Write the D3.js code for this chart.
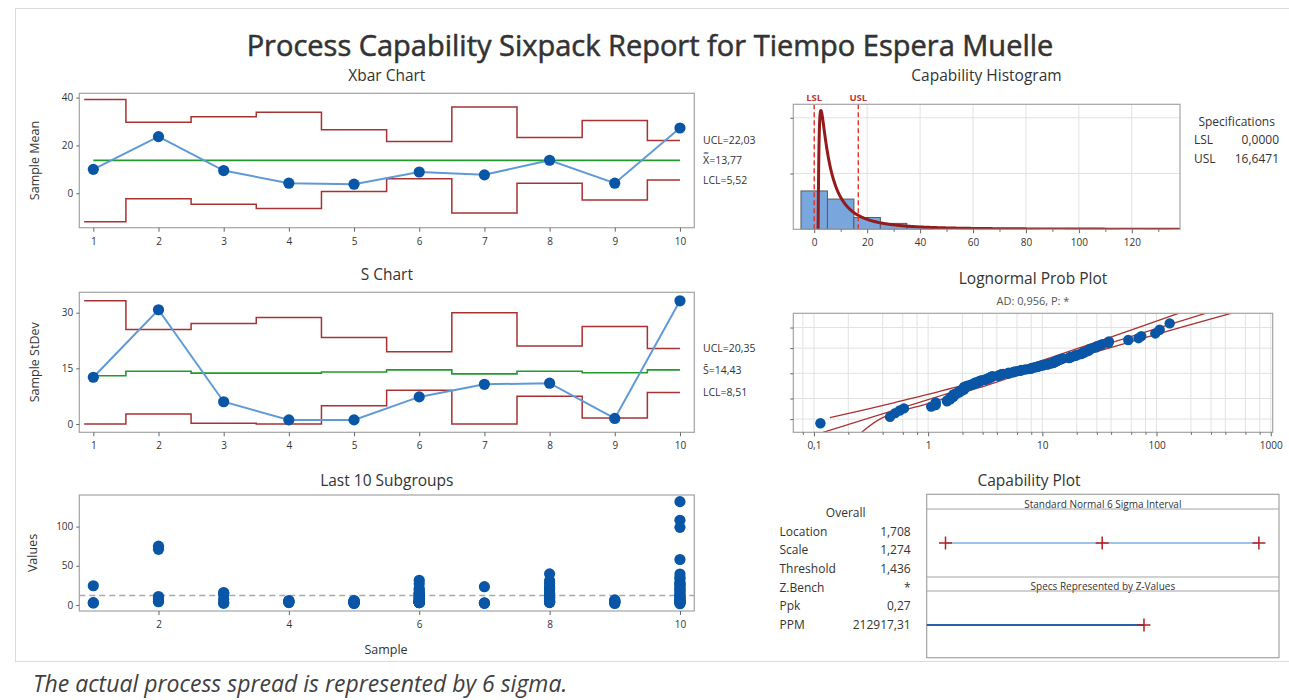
<!DOCTYPE html>
<html>
<head>
<meta charset="utf-8">
<script src="https://cdn.jsdelivr.net/npm/d3@7"></script>
<style>
  body { margin: 0; background: #fff; }
  svg { display: block; font-family: "Open Sans", "Noto Sans", sans-serif; }
</style>
</head>
<body>
<svg id="chart" width="1289" height="700"></svg>
<script>
// ---- data ----
const subgroupIds = [1, 2, 3, 4, 5, 6, 7, 8, 9, 10];

const xbarValues = [10.0, 23.7, 9.5, 4.2, 3.8, 8.9, 7.7, 13.8, 4.2, 27.3];
const xbarUCL = [39.2, 29.7, 32.0, 33.9, 26.6, 21.6, 36.1, 23.3, 30.4, 22.03];
const xbarLCL = [-11.9, -2.3, -4.6, -6.4, 0.7, 6.1, -8.3, 4.2, -2.8, 5.52];
const xbarCenter = 13.77;
const xbarLabels = ["UCL=22,03", "X\u033F=13,77", "LCL=5,52"];

const sValues = [12.6, 30.8, 6.0, 1.1, 1.1, 7.3, 10.7, 11.0, 1.5, 33.2];
const sUCL = [33.2, 25.5, 27.1, 28.7, 23.3, 19.5, 30.0, 21.0, 26.3, 20.35];
const sCenter = [13.0, 14.2, 13.7, 13.7, 14.0, 14.6, 13.5, 14.2, 13.8, 14.6];
const sLCL = [0, 2.7, 0.2, 0, 4.9, 9.1, 0, 7.5, 1.6, 8.51];
const sLabels = ["UCL=20,35", "S\u0304=14,43", "LCL=8,51"];
const sLabelValues = [20.35, 14.43, 8.51];

// individual observations per subgroup
const obs1 = [24.5, 2.6, 2.9];
const obs2 = [71, 75, 4.2, 5.0, 6.5, 7.8, 9.3, 10.8];
const obs3 = [2.0, 3.5, 7.5, 13.0, 15.0, 15.8];
const obs4 = [3.0, 3.5, 4.0, 4.8, 5.7];
const obs5 = [1.9, 2.6, 2.9, 3.2, 3.5, 3.7, 3.9, 4.1, 4.4, 4.7, 5.1, 5.6];
const obs6 = [3.0, 3.1, 3.1, 3.2, 3.3, 3.3, 3.4, 3.5, 3.5, 3.6, 3.8, 4.0, 4.3, 4.6, 4.9, 4.8,
              5.8, 6.5, 7.2, 8.0, 9.0, 9.9, 10.5, 11.5, 13.5, 14.2, 14.8, 16.0, 19.0, 21.0, 27.0, 31.5];
const obs7 = [23.3, 2.05, 2.5, 2.6];
const obs8 = [39.7, 31, 27.6, 23.5, 21, 19, 15.2, 14.6, 14, 12.5, 11.5, 10.3, 9.5, 8.5, 7, 5.8, 5.0, 4.2, 3.8, 3.4, 3.1];
const obs9 = [1.95, 3.0, 3.5, 4.0, 4.6, 5.5, 6.5];
const obs10 = [131.8, 108, 99, 58, 39.4, 35, 33.4, 29, 27, 26, 24.5, 22, 20, 18.5, 16.5, 14, 12.5, 11,
               9.5, 8, 7, 6, 5, 4.3, 3.6, 3.3, 3.1, 1.55];
const observations = [obs1, obs2, obs3, obs4, obs5, obs6, obs7, obs8, obs9, obs10];
const groupMean = 12;

// specifications and fitted 3-parameter lognormal
const lsl = 0, usl = 16.6471;
const specLabels = ["LSL", "USL"];
const specValues = ["0,0000", "16,6471"];
const fitLocation = 1.708, fitScale = 1.274, fitThreshold = 1.436;
const histBinEdges = [-5, 5, 15, 25, 35, 45, 55, 65, 75, 85, 95, 105, 115, 125, 135];
const histTicks = [0, 20, 40, 60, 80, 100, 120];
const histMinor = [10, 30, 50, 70, 90, 110, 130];
const histGrid = [0.06, 0.12];

// probability plot
const probTicks = [0.1, 1, 10, 100, 1000];
const probGridX = [0.08, 0.1, 0.2, 0.4, 0.6, 0.8, 1, 2, 3, 4, 6, 8, 10, 20, 30, 40, 60, 80,
                   100, 200, 300, 400, 600, 800, 1000];
const probGridPct = [1, 10, 50, 90, 99];
const bandPctUpper = [1.2, 6.7, 22.4, 50, 78.8, 96.5, 99.89];
const bandXUpper = [0.138, 0.50, 1.62, 4.42, 11.85, 38.6, 158];
const bandPctLower = [0.135, 1.2, 6.7, 22.4, 50, 78.8, 96.5, 99.89];
const bandXLower = [0.262, 0.40, 1.05, 2.70, 6.89, 19.7, 79.4, 456];

// capability plot
const statLabels = ["Location", "Scale", "Threshold", "Z.Bench", "Ppk", "PPM"];
const statValues = ["1,708", "1,274", "1,436", "*", "0,27", "212917,31"];
const sigmaMarks = [-3, 0, 3];
const zUSL = 0.80;

// ---- helpers ----
function probit(p) {
  const a = [-3.969683028665376e+01, 2.209460984245205e+02, -2.759285104469687e+02, 1.383577518672690e+02, -3.066479806614716e+01, 2.506628277459239e+00];
  const b = [-5.447609879822406e+01, 1.615858368580409e+02, -1.556989798598866e+02, 6.680131188771972e+01, -1.328068155288572e+01];
  const c = [-7.784894002430293e-03, -3.223964580411365e-01, -2.400758277161838e+00, -2.549732539343734e+00, 4.374664141464968e+00, 2.938163982698783e+00];
  const d = [7.784695709041462e-03, 3.224671290700398e-01, 2.445134137142996e+00, 3.754408661907416e+00];
  let q, r;
  if (p < 0.02425) {
    q = Math.sqrt(-2 * Math.log(p));
    return (((((c[0]*q+c[1])*q+c[2])*q+c[3])*q+c[4])*q+c[5]) / ((((d[0]*q+d[1])*q+d[2])*q+d[3])*q+1);
  }
  if (p <= 1 - 0.02425) {
    q = p - 0.5; r = q * q;
    return (((((a[0]*r+a[1])*r+a[2])*r+a[3])*r+a[4])*r+a[5])*q / (((((b[0]*r+b[1])*r+b[2])*r+b[3])*r+b[4])*r+1);
  }
  q = Math.sqrt(-2 * Math.log(1 - p));
  return -(((((c[0]*q+c[1])*q+c[2])*q+c[3])*q+c[4])*q+c[5]) / ((((d[0]*q+d[1])*q+d[2])*q+d[3])*q+1);
}

function stepPoints(vals, start) {
  const pts = [];
  vals.forEach((v, i) => {
    const a = i === 0 ? start : i + 0.5;
    const b = i === vals.length - 1 ? vals.length : i + 1.5;
    pts.push([a, v], [b, v]);
  });
  return pts;
}

const comma = v => String(v).replace(".", ",");

const svg = d3.select("#chart");
const textColor = "#333";
const frameColor = "#a3a3a3";
const limitColor = "#a83232";
const centerColor = "#229a2e";
const dotColor = "#0a56a6";
const lineColor = "#5f9ad6";

// faint report border
svg.append("rect").attr("x", 15.5).attr("y", 8.5).attr("width", 1290).attr("height", 653)
  .attr("fill", "none").attr("stroke", "#dcdcdc");

svg.append("text").attr("x", 650).attr("y", 56).attr("text-anchor", "middle")
  .attr("font-size", 29).attr("fill", "#333").attr("stroke", "#333").attr("stroke-width", 0.55)
  .text("Process Capability Sixpack Report for Tiempo Espera Muelle");

svg.append("text").attr("x", 33).attr("y", 692).attr("font-size", 23).attr("font-style", "italic")
  .attr("fill", "#404040").text("The actual process spread is represented by 6 sigma.");

function title(x, y, txt) {
  svg.append("text").attr("x", x).attr("y", y).attr("text-anchor", "middle")
    .attr("font-size", 15.5).attr("fill", textColor).text(txt);
}

function frame(x0, y0, x1, y1) {
  svg.append("rect").attr("x", x0).attr("y", y0).attr("width", x1 - x0).attr("height", y1 - y0)
    .attr("fill", "none").attr("stroke", frameColor).attr("stroke-width", 1.2);
}

function styleAxis(g, size) {
  g.select(".domain").remove();
  g.selectAll(".tick line").attr("stroke", "#666");
  g.selectAll(".tick text").attr("fill", textColor).attr("font-size", size || 10)
    .attr("font-family", "Open Sans, Noto Sans, sans-serif");
}

function clip(id, x0, y0, x1, y1) {
  svg.append("clipPath").attr("id", id).append("rect")
    .attr("x", x0).attr("y", y0).attr("width", x1 - x0).attr("height", y1 - y0);
}

function yTitle(x, y, txt) {
  svg.append("text").attr("transform", `translate(${x},${y}) rotate(-90)`)
    .attr("text-anchor", "middle").attr("font-size", 12.5).attr("fill", textColor).text(txt);
}

// ---- left column: shared x ----
const L0 = 79.3, L1 = 694.3;
const xSub = d3.scaleLinear().domain([0.785, 10.22]).range([L0, L1]);

function controlChart(opt) {
  const y = d3.scaleLinear().domain(opt.domain).range([opt.bottom, opt.top]);
  frame(L0, opt.top, L1, opt.bottom);
  title(386.8, opt.top - 12, opt.title);
  yTitle(39, (opt.top + opt.bottom) / 2, opt.ylab);

  const gx = svg.append("g").attr("transform", `translate(0,${opt.bottom})`)
    .call(d3.axisBottom(xSub).tickValues(subgroupIds).tickSize(4).tickPadding(6).tickFormat(d3.format("d")));
  styleAxis(gx);
  const gy = svg.append("g").attr("transform", `translate(${L0},0)`)
    .call(d3.axisLeft(y).tickValues(opt.yticks).tickSize(3).tickPadding(3));
  styleAxis(gy);

  const line = d3.line().x(d => xSub(d[0])).y(d => y(d[1]));
  [opt.ucl, opt.lcl].forEach(vals => {
    svg.append("path").datum(stepPoints(vals, 0.86)).attr("d", line)
      .attr("fill", "none").attr("stroke", limitColor).attr("stroke-width", 1.5);
  });
  svg.append("path").datum(stepPoints(opt.center, 1)).attr("d", line)
    .attr("fill", "none").attr("stroke", centerColor).attr("stroke-width", 1.6);

  svg.append("path").datum(opt.values.map((v, i) => [subgroupIds[i], v])).attr("d", line)
    .attr("fill", "none").attr("stroke", lineColor).attr("stroke-width", 2);
  svg.selectAll(null).data(opt.values).enter().append("circle")
    .attr("cx", (d, i) => xSub(subgroupIds[i])).attr("cy", d => y(d)).attr("r", 5.6)
    .attr("fill", dotColor);

  svg.selectAll(null).data(opt.labels).enter().append("text")
    .attr("x", 703).attr("y", (d, i) => y(opt.labelValues[i])).attr("dy", "0.35em")
    .attr("font-size", 10.5).attr("fill", textColor).text(d => d);
}

controlChart({
  title: "Xbar Chart", ylab: "Sample Mean", top: 93.3, bottom: 227.7,
  domain: [-14.4, 41.8], yticks: [0, 20, 40],
  values: xbarValues, ucl: xbarUCL, lcl: xbarLCL, center: subgroupIds.map(() => xbarCenter),
  labels: xbarLabels, labelValues: [xbarUCL[9], xbarCenter, xbarLCL[9]]
});

controlChart({
  title: "S Chart", ylab: "Sample StDev", top: 292.3, bottom: 432.3,
  domain: [-2.24, 35.5], yticks: [0, 15, 30],
  values: sValues, ucl: sUCL, lcl: sLCL, center: sCenter,
  labels: sLabels, labelValues: sLabelValues
});

// ---- last 10 subgroups ----
{
  const top = 495, bottom = 611;
  const y = d3.scaleLinear().domain([-7.7, 140.3]).range([bottom, top]);
  frame(L0, top, L1, bottom);
  title(386.8, top - 9, "Last 10 Subgroups");
  yTitle(37, (top + bottom) / 2, "Values");
  svg.append("text").attr("x", 386).attr("y", 654).attr("text-anchor", "middle")
    .attr("font-size", 12.5).attr("fill", textColor).text("Sample");

  const gx = svg.append("g").attr("transform", `translate(0,${bottom})`)
    .call(d3.axisBottom(xSub).tickValues([2, 4, 6, 8, 10]).tickSize(4).tickPadding(6).tickFormat(d3.format("d")));
  styleAxis(gx);
  const gy = svg.append("g").attr("transform", `translate(${L0},0)`)
    .call(d3.axisLeft(y).tickValues([0, 50, 100]).tickSize(3).tickPadding(3));
  styleAxis(gy);

  svg.append("line").attr("x1", L0).attr("x2", L1).attr("y1", y(groupMean)).attr("y2", y(groupMean))
    .attr("stroke", "#a9a9a9").attr("stroke-width", 1.4).attr("stroke-dasharray", "6,4");

  const pts = observations.flatMap((vals, i) => vals.map(v => [subgroupIds[i], v]));
  svg.selectAll(null).data(pts).enter().append("circle")
    .attr("cx", d => xSub(d[0])).attr("cy", d => y(d[1])).attr("r", 5.6).attr("fill", dotColor);
}

// ---- capability histogram ----
{
  const x0 = 793.3, x1 = 1180, top = 104.3, bottom = 229.3;
  const x = d3.scaleLinear().domain([-7.9, 138.2]).range([x0, x1]);
  const y = d3.scaleLinear().domain([0, 0.1345]).range([bottom, top]);
  title(986.5, 81, "Capability Histogram");

  svg.selectAll(null).data(histTicks).enter().append("line")
    .attr("x1", d => x(d)).attr("x2", d => x(d)).attr("y1", top).attr("y2", bottom)
    .attr("stroke", "#e2e2e2");
  svg.selectAll(null).data(histGrid).enter().append("line")
    .attr("x1", x0).attr("x2", x1).attr("y1", d => y(d)).attr("y2", d => y(d))
    .attr("stroke", "#e2e2e2");

  const all = observations.flat();
  const bins = d3.bin().domain([histBinEdges[0], histBinEdges[histBinEdges.length - 1]])
    .thresholds(histBinEdges.slice(1, -1))(all);
  const width = histBinEdges[1] - histBinEdges[0];
  svg.selectAll(null).data(bins.filter(b => b.length)).enter().append("rect")
    .attr("x", b => x(b.x0)).attr("width", b => x(b.x1) - x(b.x0))
    .attr("y", b => y(b.length / (all.length * width)))
    .attr("height", b => bottom - y(b.length / (all.length * width)))
    .attr("fill", "#79a6dc").attr("stroke", "#5a5a5a").attr("stroke-width", 1);

  clip("histClip", x0, top, x1, bottom);
  const pdf = v => {
    const t = v - fitThreshold;
    if (t <= 0) return 0;
    const z = (Math.log(t) - fitLocation) / fitScale;
    return Math.exp(-0.5 * z * z) / (t * fitScale * Math.sqrt(2 * Math.PI));
  };
  const curveX = [fitThreshold].concat(d3.range(-7, Math.log(140), 0.01).map(t => fitThreshold + Math.exp(t)));
  svg.append("path").datum(curveX).attr("clip-path", "url(#histClip)")
    .attr("d", d3.line().x(d => x(d)).y(d => y(pdf(d))))
    .attr("fill", "none").attr("stroke", "#931b1b").attr("stroke-width", 3);

  [lsl, usl].forEach((v, i) => {
    svg.append("line").attr("x1", x(v)).attr("x2", x(v)).attr("y1", top).attr("y2", bottom)
      .attr("stroke", "#e53228").attr("stroke-width", 1.4).attr("stroke-dasharray", "5,3");
    svg.append("text").attr("x", x(v)).attr("y", 101).attr("text-anchor", "middle")
      .attr("font-size", 9.5).attr("font-weight", "bold").attr("fill", "#b53a3a").text(specLabels[i]);
  });

  frame(x0, top, x1, bottom);
  const gx = svg.append("g").attr("transform", `translate(0,${bottom})`)
    .call(d3.axisBottom(x).tickValues(histTicks).tickSize(4).tickPadding(6).tickFormat(d3.format("d")));
  styleAxis(gx);
  const gm = svg.append("g").attr("transform", `translate(0,${bottom})`)
    .call(d3.axisBottom(x).tickValues(histMinor).tickSize(2.5).tickFormat(""));
  styleAxis(gm);
  const gy = svg.append("g").attr("transform", `translate(${x0},0)`)
    .call(d3.axisLeft(y).tickValues(histGrid).tickSize(3).tickFormat(""));
  styleAxis(gy);

  svg.append("text").attr("x", 1236.7).attr("y", 126).attr("text-anchor", "middle")
    .attr("font-size", 12).attr("fill", textColor).text("Specifications");
  specLabels.forEach((lab, i) => {
    svg.append("text").attr("x", 1194).attr("y", 144 + i * 18.5)
      .attr("font-size", 12).attr("fill", textColor).text(lab);
    svg.append("text").attr("x", 1279).attr("y", 144 + i * 18.5).attr("text-anchor", "end")
      .attr("font-size", 12).attr("fill", textColor).text(specValues[i]);
  });
}

// ---- lognormal probability plot ----
{
  const x0 = 793.3, x1 = 1272.7, top = 313.3, bottom = 432.3;
  const x = d3.scaleLog().domain([0.066, 1040]).range([x0, x1]);
  const y = d3.scaleLinear().domain([-3.0, 3.05]).range([bottom, top]);
  title(1033, 284, "Lognormal Prob Plot");
  svg.append("text").attr("x", 1033).attr("y", 305).attr("text-anchor", "middle")
    .attr("font-size", 11).attr("fill", "#555").text("AD: 0,956, P: *");

  svg.selectAll(null).data(probGridX).enter().append("line")
    .attr("x1", d => x(d)).attr("x2", d => x(d)).attr("y1", top).attr("y2", bottom)
    .attr("stroke", "#e2e2e2");
  svg.selectAll(null).data(probGridPct).enter().append("line")
    .attr("x1", x0).attr("x2", x1).attr("y1", d => y(probit(d / 100))).attr("y2", d => y(probit(d / 100)))
    .attr("stroke", "#e2e2e2");

  clip("probClip", x0, top, x1, bottom);
  const g = svg.append("g").attr("clip-path", "url(#probClip)");
  const zLine = d3.line().x(d => x(d[0])).y(d => y(d[1]));
  const fitZ = [-3.2, 3.2];
  g.append("path").datum(fitZ.map(z => [Math.exp(fitLocation + fitScale * z), z])).attr("d", zLine)
    .attr("fill", "none").attr("stroke", limitColor).attr("stroke-width", 1.3);
  const bandLine = d3.line().curve(d3.curveCatmullRom).x(d => x(d[0])).y(d => y(d[1]));
  g.append("path").datum(bandXUpper.map((v, i) => [v, probit(bandPctUpper[i] / 100)])).attr("d", bandLine)
    .attr("fill", "none").attr("stroke", limitColor).attr("stroke-width", 1.3);
  g.append("path").datum(bandXLower.map((v, i) => [v, probit(bandPctLower[i] / 100)])).attr("d", bandLine)
    .attr("fill", "none").attr("stroke", limitColor).attr("stroke-width", 1.3);

  const sorted = observations.flat().sort(d3.ascending);
  const n = sorted.length;
  g.selectAll(null).data(sorted).enter().append("circle")
    .attr("cx", d => x(d - fitThreshold))
    .attr("cy", (d, i) => y(probit((i + 1 - 0.3) / (n + 0.4))))
    .attr("r", 5.2).attr("fill", dotColor);

  frame(x0, top, x1, bottom);
  const gx = svg.append("g").attr("transform", `translate(0,${bottom})`)
    .call(d3.axisBottom(x).tickValues(probTicks).tickSize(4).tickPadding(6).tickFormat(comma));
  styleAxis(gx);
  const gm = svg.append("g").attr("transform", `translate(0,${bottom})`)
    .call(d3.axisBottom(x).tickValues(probGridX.filter(v => !probTicks.includes(v))).tickSize(2.5).tickFormat(""));
  styleAxis(gm);
  const gy = svg.append("g").attr("transform", `translate(${x0},0)`)
    .call(d3.axisLeft(y).tickValues(probGridPct.map(p => probit(p / 100))).tickSize(3).tickFormat(""));
  styleAxis(gy);
}

// ---- capability plot ----
{
  const x0 = 926.7, x1 = 1279, top = 494.3, bottom = 657.7;
  const head1 = 509, head2Top = 577, head2Bottom = 591;
  const x = d3.scaleLinear().domain([-3.36, 3.385]).range([x0, x1]);
  title(1029, 486, "Capability Plot");

  svg.append("text").attr("x", 845.7).attr("y", 517).attr("text-anchor", "middle")
    .attr("font-size", 12).attr("fill", textColor).text("Overall");
  statLabels.forEach((lab, i) => {
    const yy = 535.5 + i * 18.7;
    svg.append("text").attr("x", 779.5).attr("y", yy).attr("font-size", 12).attr("fill", textColor).text(lab);
    svg.append("text").attr("x", 910.7).attr("y", yy).attr("text-anchor", "end")
      .attr("font-size", 12).attr("fill", textColor).text(statValues[i]);
  });

  frame(x0, top, x1, bottom);
  [head1, head2Top, head2Bottom].forEach(v => {
    svg.append("line").attr("x1", x0).attr("x2", x1).attr("y1", v).attr("y2", v)
      .attr("stroke", frameColor).attr("stroke-width", 1.2);
  });
  svg.append("text").attr("x", (x0 + x1) / 2).attr("y", 507.5).attr("text-anchor", "middle")
    .attr("font-size", 10).attr("fill", textColor).text("Standard Normal 6 Sigma Interval");
  svg.append("text").attr("x", (x0 + x1) / 2).attr("y", 589.5).attr("text-anchor", "middle")
    .attr("font-size", 10).attr("fill", textColor).text("Specs Represented by Z-Values");

  const cross = (cx, cy) => `M${cx - 6.5},${cy}H${cx + 6.5}M${cx},${cy - 6.5}V${cy + 6.5}`;
  const yTop = 543, yBot = 625;
  svg.append("line").attr("x1", x(sigmaMarks[0])).attr("x2", x(sigmaMarks[2])).attr("y1", yTop).attr("y2", yTop)
    .attr("stroke", "#9cc4ea").attr("stroke-width", 2.2);
  svg.selectAll(null).data(sigmaMarks).enter().append("path")
    .attr("d", d => cross(x(d), yTop)).attr("stroke", "#b32020").attr("stroke-width", 1.5);

  svg.append("line").attr("x1", x0).attr("x2", x(zUSL)).attr("y1", yBot).attr("y2", yBot)
    .attr("stroke", "#2a62a8").attr("stroke-width", 2);
  svg.append("path").attr("d", cross(x(zUSL), yBot)).attr("stroke", "#b32020").attr("stroke-width", 1.5);
}
</script>
</body>
</html>
